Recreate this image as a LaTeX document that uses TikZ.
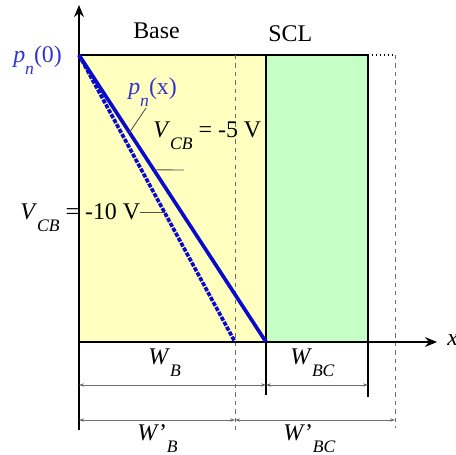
\documentclass[tikz,border=0pt]{standalone}
\usepackage{fontspec}
\setmainfont{Liberation Serif}
\usepackage{xcolor}
\usetikzlibrary{arrows.meta,positioning,calc}
\definecolor{baseyellow}{HTML}{FFFFC0}
\definecolor{sclgreen}{HTML}{C6FFC6}
\definecolor{profblue}{HTML}{0A0ACC}
\definecolor{labblue}{HTML}{3434D0}
\definecolor{guidegray}{HTML}{6E6E6E}
\newcommand{\lowsub}[1]{\raisebox{-8pt}{\fontsize{12.5}{12.5}\selectfont\itshape #1}}

\begin{document}
\begin{tikzpicture}[x=0.025cm,y=0.025cm,
    lbl/.style   = {font=\fontsize{17}{20}\selectfont,inner sep=0pt,anchor=base west},
    axe/.style   = {-{Stealth[length=8.5pt,width=7pt]},line width=1.2pt},
    cote/.style  = {{Stealth[length=3.5pt,width=2.4pt]}-{Stealth[length=3.5pt,width=2.4pt]},
                    guidegray,line width=0.5pt},
    repere/.style= {guidegray,dashed,line width=0.6pt},
    leader/.style= {guidegray!70!black,line width=0.6pt},
    profil/.style= {profblue,line width=2.6pt},
  ]
  \useasboundingbox (-79,-113) rectangle (377,342);

  % ── Régions : base et zone de charge d'espace ─────────────────────────────
  \fill[baseyellow] (0,0) rectangle (187,287);
  \fill[sclgreen]   (187,0) rectangle (289,287);

  % ── Points de repère ──────────────────────────────────────────────────────
  \coordinate (O)    at (0,0);
  \coordinate (P0)   at (0,287);
  \coordinate (WB)   at (187,0);
  \coordinate (WBp)  at (156,0);
  \coordinate (WBC)  at (289,0);
  \coordinate (WBCp) at (316,0);

  % ── Limites des régions ───────────────────────────────────────────────────
  \draw[line width=0.8pt] (P0) -- (289,287);
  \draw[line width=0.8pt,dotted] (289,287) -- (316,287);
  \draw[line width=0.9pt] (187,287) -- (187,-53);
  \draw[line width=0.9pt] (289,287) -- (289,-55);
  \draw[repere] (156,287) -- (156,-88);
  \draw[repere] (316,287) -- (316,-86);

  % ── Axes ──────────────────────────────────────────────────────────────────
  \draw[axe] (0,-88) -- (0,337);
  \draw[axe] (O) -- (358,0);
  \node[lbl,font=\fontsize{17}{20}\selectfont\itshape] (xlab) at (368,-4) {x};

  % ── Profils de porteurs ───────────────────────────────────────────────────
  \draw[profil] (P0) -- (WB);
  \draw[profil,dash pattern=on 3pt off 1pt] (P0) -- (WBp);

  % ── Étiquettes ────────────────────────────────────────────────────────────
  \node[lbl] (base) at (54,303)  {Base};
  \node[lbl] (scl)  at (189,300) {SCL};
  \node[lbl,text=labblue] (pn0) at (-66,279) {\textit{p}\lowsub{n}(0)};
  \node[lbl,text=labblue] (pnx) at (49,247)  {\textit{p}\lowsub{n}(x)};
  \node[lbl] (v5)  at (74,204)  {\textit{V}\lowsub{CB} = -5 V};
  \node[lbl] (v10) at (-59,122) {\textit{V}\lowsub{CB} = -10 V};

  % ── Lignes de rappel ──────────────────────────────────────────────────────
  \coordinate (pnxfoot) at (67,234);
  \coordinate (v5tail)  at (105,172);
  \coordinate (v10tail) at (61,129);
  \coordinate (ondash)  at ($(P0)!0.55!(WBp)$);
  \draw[leader] (pnxfoot) -- ($(P0)!0.27!(WB)$);
  \draw[leader] (v5tail) -- ($(P0)!0.40!(WB)$);
  \draw[leader] (v10tail |- ondash) -- (ondash);

  % ── Cotes ─────────────────────────────────────────────────────────────────
  \coordinate (c1a) at (0,-43);
  \coordinate (c1b) at (187,-43);
  \coordinate (c1c) at (289,-43);
  \coordinate (c2a) at (0,-78);
  \coordinate (c2b) at (156,-78);
  \coordinate (c2c) at (316,-78);
  \draw[cote] (c1a) -- (c1b);
  \draw[cote] (c1b) -- (c1c);
  \draw[cote] (c2a) -- (c2b);
  \draw[cote] (c2b) -- (c2c);

  \node[lbl] (wb)   at (69,-23)   {\textit{W}\lowsub{B}};
  \node[lbl] (wbc)  at (211,-23)  {\textit{W}\lowsub{BC}};
  \node[lbl] (wbp)  at (58,-99)   {\textit{W}'\lowsub{B}};
  \node[lbl] (wbcp) at (204,-99)  {\textit{W}'\lowsub{BC}};

\end{tikzpicture}
\end{document}
